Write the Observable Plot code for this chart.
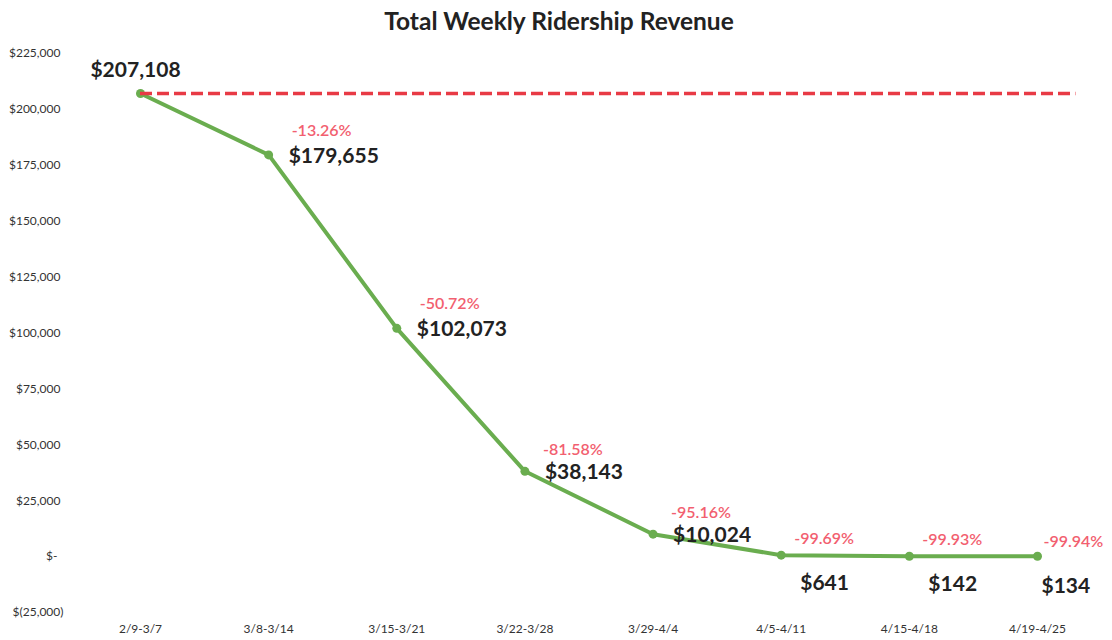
<!DOCTYPE html>
<html><head><meta charset="utf-8">
<script src="https://cdn.jsdelivr.net/npm/d3@7"></script>
<script src="https://cdn.jsdelivr.net/npm/@observablehq/plot@0.6"></script>
<style>
body{margin:0;background:#fff;font-family:Lato,"Open Sans",sans-serif;}
#title{height:38px;line-height:42px;text-align:center;font-weight:bold;font-size:24.5px;color:#222;padding-left:6px;}
</style></head><body>
<div id="title">Total Weekly Ridership Revenue</div>
<div id="chart"></div>
<script>
const weeks = ["2/9-3/7","3/8-3/14","3/15-3/21","3/22-3/28","3/29-4/4","4/5-4/11","4/15-4/18","4/19-4/25"];
const revenue = [207108,179655,102073,38143,10024,641,142,134];
const pctChange = [null,-13.26,-50.72,-81.58,-95.16,-99.69,-99.93,-99.94];
const baseline = 207108;
const yTicks = [-25000,0,25000,50000,75000,100000,125000,150000,175000,200000,225000];

const rows = weeks.map((w,i)=>({i, week:w, revenue:revenue[i], pct:pctChange[i]}));
const fmtNum = d3.format(",");
const moneyLabel = v => "$" + fmtNum(v);
const tickLabel = v => v === 0 ? "$-\u00a0\u00a0" : v < 0 ? "$(" + fmtNum(-v) + ")" : "$" + fmtNum(v) + "\u00a0";

const green = "#6aad4f", red = "#e83a45", pink = "#f25f70", dark = "#222";
const sel = idx => rows.filter(r => idx.includes(r.i));
const valText = (idx, o) => Plot.text(sel(idx), {x:"i", y:"revenue", text: d => moneyLabel(d.revenue), fill: dark, fontSize: 21, fontWeight: "bold", textAnchor: "start", ...o});
const pctText = (idx, o) => Plot.text(sel(idx), {x:"i", y:"revenue", text: d => d.pct.toFixed(2) + "%", fill: pink, fontSize: 16, fontWeight: 600, textAnchor: "start", ...o});

const chart = Plot.plot({
  width: 1112, height: 602,
  marginTop: 15, marginBottom: 28, marginLeft: 66, marginRight: 20,
  style: {fontFamily: "Lato, 'Open Sans', sans-serif", fontSize: "12px", color: "#333", background: "#fff"},
  x: {type: "linear", domain: [0, weeks.length - 1], range: [140, 1037]},
  y: {domain: [-25000, 225000]},
  marks: [
    Plot.axisY({ticks: yTicks, tickFormat: tickLabel, tickSize: 0, tickPadding: 3, label: null}),
    Plot.axisX({ticks: weeks.map((_, i) => i), tickFormat: i => weeks[i], tickSize: 0, tickPadding: 12, label: null}),
    Plot.line(rows, {x: "i", y: "revenue", stroke: green, strokeWidth: 4}),
    Plot.dot(rows, {x: "i", y: "revenue", r: 4.5, fill: green}),
    Plot.ruleY([baseline], {x1: 0, x2: 7.3, stroke: red, strokeWidth: 3.5, strokeDasharray: "12,5"}),
    valText([0], {textAnchor: "middle", dx: -5, dy: -23}),
    valText([1,2,3,4], {dx: 20, dy: 1}),
    valText([5,6], {dx: 19, dy: 28}),
    valText([7], {dx: 4, dy: 30}),
    pctText([1,2], {dx: 23, dy: -24}),
    pctText([3,4], {dx: 18, dy: -21}),
    pctText([5,6], {dx: 13, dy: -16}),
    pctText([7], {dx: 6, dy: -14})
  ]
});
document.getElementById("chart").appendChild(chart);
</script>
</body></html>
